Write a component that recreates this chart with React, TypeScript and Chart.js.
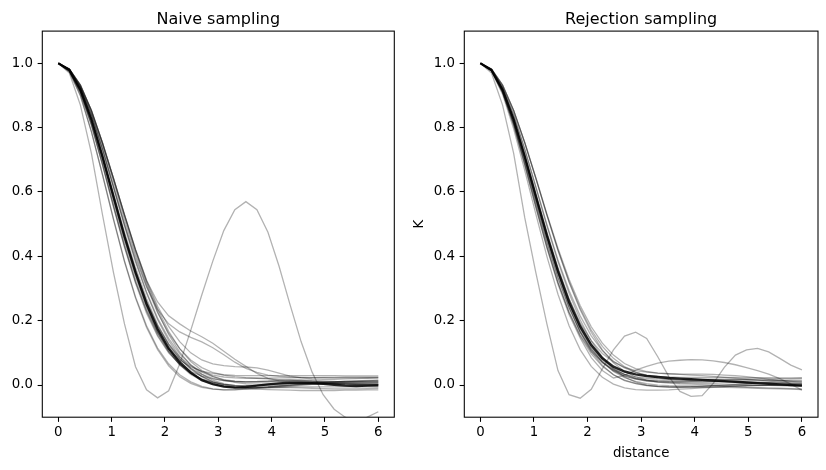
import React, { useEffect, useRef } from "react";
import { Chart, registerables } from "chart.js";

Chart.register(...registerables);

// distance grid (30 points from 0 to 6)
const distance = [0, 0.207, 0.414, 0.621, 0.828, 1.034, 1.241, 1.448, 1.655, 1.862, 2.069, 2.276, 2.483, 2.69, 2.897, 3.103, 3.31, 3.517, 3.724, 3.931, 4.138, 4.345, 4.552, 4.759, 4.966, 5.172, 5.379, 5.586, 5.793, 6];
const xTicks = [0, 1, 2, 3, 4, 5, 6];
const yTicks = [0, 0.2, 0.4, 0.6, 0.8, 1.0];

// ---- Naive sampling ----
const naiveMean = [1, 0.979, 0.918, 0.825, 0.71, 0.586, 0.462, 0.35, 0.252, 0.174, 0.114, 0.071, 0.039, 0.015, 0.003, -0.005, -0.008, -0.006, -0.002, 0.002, 0.005, 0.007, 0.007, 0.006, 0.004, 0.001, -0.002, -0.003, -0.002, -0.001];
const naiveS1 = [1, 0.974, 0.9, 0.788, 0.655, 0.517, 0.386, 0.274, 0.184, 0.115, 0.066, 0.032, 0.01, -0.004, -0.012, -0.015, -0.015, -0.013, -0.011, -0.009, -0.008, -0.008, -0.009, -0.01, -0.011, -0.012, -0.012, -0.012, -0.011, -0.01];
const naiveS2 = [1, 0.977, 0.909, 0.808, 0.684, 0.553, 0.428, 0.316, 0.223, 0.152, 0.1, 0.065, 0.042, 0.028, 0.019, 0.014, 0.011, 0.01, 0.01, 0.01, 0.011, 0.011, 0.011, 0.011, 0.01, 0.01, 0.01, 0.01, 0.01, 0.01];
const naiveS3 = [1, 0.979, 0.918, 0.825, 0.71, 0.586, 0.462, 0.349, 0.251, 0.172, 0.112, 0.068, 0.037, 0.017, 0.004, -0.004, -0.008, -0.009, -0.008, -0.006, -0.003, 0, 0.003, 0.005, 0.006, 0.006, 0.005, 0.004, 0.003, 0.002];
const naiveS4 = [1, 0.979, 0.918, 0.825, 0.711, 0.588, 0.466, 0.355, 0.26, 0.185, 0.128, 0.087, 0.059, 0.042, 0.031, 0.025, 0.022, 0.021, 0.021, 0.021, 0.022, 0.022, 0.023, 0.023, 0.024, 0.024, 0.024, 0.024, 0.024, 0.024];
const naiveS5 = [1, 0.981, 0.925, 0.84, 0.733, 0.615, 0.495, 0.383, 0.285, 0.203, 0.138, 0.088, 0.052, 0.027, 0.01, -0.001, -0.007, -0.011, -0.013, -0.014, -0.015, -0.016, -0.017, -0.017, -0.017, -0.017, -0.016, -0.016, -0.015, -0.015];
const naiveS6 = [1, 0.981, 0.925, 0.84, 0.733, 0.616, 0.497, 0.386, 0.289, 0.208, 0.145, 0.097, 0.063, 0.04, 0.026, 0.017, 0.012, 0.01, 0.01, 0.011, 0.013, 0.014, 0.014, 0.012, 0.009, 0.006, 0.003, 0.001, 0, 0];
const naiveS7 = [1, 0.982, 0.932, 0.853, 0.753, 0.643, 0.529, 0.42, 0.321, 0.236, 0.167, 0.113, 0.073, 0.045, 0.027, 0.015, 0.008, 0.004, 0.003, 0.003, 0.004, 0.005, 0.006, 0.007, 0.007, 0.006, 0.005, 0.004, 0.003, 0.002];
const naiveS8 = [1, 0.982, 0.932, 0.853, 0.752, 0.641, 0.526, 0.415, 0.315, 0.228, 0.157, 0.102, 0.062, 0.034, 0.015, 0.004, -0.003, -0.006, -0.007, -0.006, -0.004, -0.001, 0.002, 0.005, 0.008, 0.01, 0.012, 0.013, 0.014, 0.015];
const naiveS9 = [1, 0.982, 0.932, 0.853, 0.753, 0.643, 0.53, 0.422, 0.326, 0.245, 0.182, 0.135, 0.1, 0.078, 0.066, 0.06, 0.057, 0.056, 0.053, 0.046, 0.037, 0.028, 0.022, 0.019, 0.018, 0.018, 0.019, 0.02, 0.021, 0.022];
const naiveS10 = [1, 0.982, 0.932, 0.853, 0.753, 0.643, 0.529, 0.42, 0.325, 0.258, 0.215, 0.19, 0.168, 0.15, 0.13, 0.105, 0.08, 0.058, 0.036, 0.021, 0.013, 0.009, 0.007, 0.007, 0.008, 0.009, 0.01, 0.011, 0.012, 0.012];
const naiveS11 = [1, 0.981, 0.925, 0.84, 0.734, 0.618, 0.502, 0.395, 0.305, 0.235, 0.19, 0.165, 0.148, 0.134, 0.116, 0.094, 0.071, 0.052, 0.039, 0.031, 0.027, 0.025, 0.024, 0.023, 0.023, 0.022, 0.022, 0.022, 0.022, 0.022];
const naiveS12 = [1, 0.974, 0.9, 0.787, 0.653, 0.514, 0.383, 0.27, 0.179, 0.11, 0.06, 0.026, 0.005, -0.007, -0.013, -0.015, -0.014, -0.012, -0.009, -0.006, -0.003, -0.001, 0.001, 0.002, 0.003, 0.003, 0.002, 0.001, 0, -0.001];
const naiveS13 = [1, 0.977, 0.909, 0.808, 0.685, 0.556, 0.432, 0.322, 0.232, 0.162, 0.112, 0.078, 0.056, 0.043, 0.036, 0.032, 0.03, 0.029, 0.029, 0.029, 0.029, 0.029, 0.029, 0.029, 0.029, 0.029, 0.028, 0.028, 0.028, 0.028];
const naiveS14 = [1, 0.979, 0.918, 0.824, 0.708, 0.583, 0.458, 0.345, 0.246, 0.166, 0.106, 0.063, 0.033, 0.014, 0.002, -0.004, -0.007, -0.008, -0.008, -0.007, -0.007, -0.006, -0.006, -0.006, -0.006, -0.006, -0.006, -0.006, -0.006, -0.006];
const naiveS15 = [1, 0.982, 0.928, 0.848, 0.745, 0.632, 0.515, 0.405, 0.307, 0.225, 0.161, 0.113, 0.078, 0.054, 0.039, 0.031, 0.026, 0.023, 0.021, 0.019, 0.017, 0.015, 0.013, 0.011, 0.01, 0.01, 0.011, 0.012, 0.013, 0.014];
const naiveS16 = [1, 0.97, 0.87, 0.72, 0.53, 0.35, 0.19, 0.057, -0.015, -0.04, -0.018, 0.065, 0.17, 0.28, 0.385, 0.48, 0.545, 0.57, 0.545, 0.475, 0.37, 0.25, 0.135, 0.04, -0.03, -0.075, -0.1, -0.115, -0.1, -0.083];
const naiveS17 = [1, 0.978, 0.914, 0.818, 0.699, 0.572, 0.447, 0.335, 0.24, 0.163, 0.105, 0.064, 0.036, 0.018, 0.008, 0.002, -0.001, -0.002, -0.001, 0.001, 0.003, 0.005, 0.006, 0.006, 0.005, 0.004, 0.003, 0.002, 0.002, 0.002];
const naiveS18 = [1, 0.98, 0.921, 0.831, 0.719, 0.597, 0.476, 0.365, 0.268, 0.188, 0.127, 0.082, 0.049, 0.026, 0.011, 0.001, -0.005, -0.008, -0.009, -0.008, -0.006, -0.004, -0.001, 0.002, 0.005, 0.007, 0.009, 0.01, 0.01, 0.01];
const naiveS19 = [1, 0.979, 0.918, 0.825, 0.71, 0.587, 0.465, 0.354, 0.258, 0.181, 0.123, 0.081, 0.052, 0.033, 0.021, 0.014, 0.011, 0.01, 0.011, 0.013, 0.015, 0.016, 0.016, 0.015, 0.013, 0.011, 0.009, 0.008, 0.007, 0.007];
const naiveS20 = [1, 0.977, 0.91, 0.811, 0.689, 0.559, 0.434, 0.322, 0.229, 0.156, 0.102, 0.063, 0.036, 0.019, 0.008, 0.002, -0.001, -0.002, -0.002, -0.001, 0, 0.001, 0.002, 0.003, 0.004, 0.005, 0.006, 0.006, 0.006, 0.006];
const naiveSamples = [naiveS1, naiveS2, naiveS3, naiveS4, naiveS5, naiveS6, naiveS7, naiveS8, naiveS9, naiveS10, naiveS11, naiveS12, naiveS13, naiveS14, naiveS15, naiveS16, naiveS17, naiveS18, naiveS19, naiveS20];

// ---- Rejection sampling ----
const rejMean = [1, 0.979, 0.918, 0.825, 0.71, 0.587, 0.465, 0.354, 0.258, 0.182, 0.124, 0.083, 0.057, 0.042, 0.033, 0.028, 0.025, 0.022, 0.02, 0.018, 0.016, 0.014, 0.012, 0.01, 0.008, 0.006, 0.004, 0.002, 0, -0.002];
const rejS1 = [1, 0.975, 0.904, 0.796, 0.667, 0.532, 0.4, 0.282, 0.184, 0.11, 0.058, 0.024, 0.003, -0.009, -0.014, -0.016, -0.016, -0.015, -0.013, -0.011, -0.009, -0.007, -0.005, -0.003, -0.002, -0.001, 0, 0, -0.001, -0.002];
const rejS2 = [1, 0.977, 0.909, 0.808, 0.684, 0.554, 0.429, 0.318, 0.226, 0.155, 0.104, 0.07, 0.047, 0.033, 0.025, 0.021, 0.019, 0.018, 0.018, 0.018, 0.018, 0.018, 0.018, 0.018, 0.018, 0.019, 0.019, 0.02, 0.02, 0.021];
const rejS3 = [1, 0.979, 0.918, 0.825, 0.71, 0.586, 0.463, 0.351, 0.253, 0.175, 0.115, 0.072, 0.042, 0.023, 0.011, 0.004, 0, -0.002, -0.003, -0.003, -0.003, -0.002, -0.002, -0.001, -0.001, 0, 0, 0, 0, 0];
const rejS4 = [1, 0.979, 0.918, 0.826, 0.712, 0.59, 0.469, 0.36, 0.267, 0.193, 0.138, 0.098, 0.072, 0.055, 0.045, 0.04, 0.037, 0.035, 0.033, 0.031, 0.029, 0.027, 0.024, 0.021, 0.018, 0.015, 0.012, 0.009, 0.006, 0.004];
const rejS5 = [1, 0.981, 0.925, 0.84, 0.733, 0.615, 0.495, 0.383, 0.285, 0.203, 0.137, 0.087, 0.05, 0.025, 0.009, 0, -0.005, -0.007, -0.007, -0.006, -0.004, -0.002, 0, 0.002, 0.004, 0.006, 0.008, 0.009, 0.01, 0.01];
const rejS6 = [1, 0.981, 0.925, 0.84, 0.733, 0.617, 0.499, 0.389, 0.294, 0.215, 0.153, 0.107, 0.074, 0.053, 0.039, 0.031, 0.027, 0.025, 0.024, 0.024, 0.024, 0.024, 0.024, 0.024, 0.023, 0.023, 0.023, 0.022, 0.022, 0.022];
const rejS7 = [1, 0.982, 0.932, 0.853, 0.753, 0.643, 0.528, 0.418, 0.319, 0.234, 0.164, 0.109, 0.069, 0.042, 0.025, 0.015, 0.009, 0.006, 0.004, 0.003, 0.001, -0.001, -0.003, -0.005, -0.007, -0.008, -0.009, -0.01, -0.011, -0.012];
const rejS8 = [1, 0.982, 0.932, 0.853, 0.754, 0.645, 0.532, 0.425, 0.329, 0.247, 0.181, 0.13, 0.093, 0.067, 0.051, 0.042, 0.037, 0.035, 0.034, 0.034, 0.034, 0.033, 0.031, 0.029, 0.026, 0.022, 0.018, 0.014, 0.011, 0.008];
const rejS9 = [1, 0.978, 0.913, 0.815, 0.696, 0.569, 0.445, 0.333, 0.24, 0.166, 0.111, 0.072, 0.045, 0.028, 0.018, 0.012, 0.01, 0.009, 0.009, 0.01, 0.01, 0.011, 0.012, 0.012, 0.013, 0.013, 0.014, 0.014, 0.015, 0.015];
const rejS10 = [1, 0.979, 0.918, 0.825, 0.709, 0.584, 0.459, 0.345, 0.246, 0.165, 0.104, 0.061, 0.032, 0.014, 0.004, -0.002, -0.004, -0.005, -0.005, -0.005, -0.006, -0.006, -0.007, -0.008, -0.009, -0.01, -0.011, -0.012, -0.013, -0.014];
const rejS11 = [1, 0.977, 0.909, 0.808, 0.684, 0.553, 0.426, 0.313, 0.219, 0.146, 0.085, 0.045, 0.022, 0.03, 0.046, 0.058, 0.068, 0.074, 0.077, 0.079, 0.078, 0.075, 0.07, 0.063, 0.054, 0.045, 0.034, 0.02, 0.003, -0.016];
const rejS12 = [1, 0.97, 0.87, 0.72, 0.52, 0.35, 0.19, 0.045, -0.03, -0.041, -0.013, 0.05, 0.109, 0.152, 0.164, 0.145, 0.088, 0.026, -0.02, -0.035, -0.033, 0.005, 0.055, 0.093, 0.109, 0.114, 0.103, 0.083, 0.062, 0.047];
const rejS13 = [1, 0.982, 0.932, 0.853, 0.753, 0.643, 0.529, 0.42, 0.322, 0.239, 0.171, 0.12, 0.083, 0.057, 0.04, 0.029, 0.022, 0.018, 0.016, 0.014, 0.013, 0.012, 0.011, 0.01, 0.009, 0.008, 0.007, 0.006, 0.005, 0.004];
const rejS14 = [1, 0.978, 0.914, 0.818, 0.699, 0.572, 0.447, 0.335, 0.24, 0.165, 0.109, 0.07, 0.044, 0.028, 0.019, 0.014, 0.012, 0.011, 0.011, 0.011, 0.01, 0.01, 0.009, 0.008, 0.007, 0.006, 0.005, 0.004, 0.003, 0.002];
const rejS15 = [1, 0.98, 0.921, 0.831, 0.719, 0.597, 0.476, 0.365, 0.268, 0.189, 0.128, 0.084, 0.053, 0.033, 0.021, 0.014, 0.01, 0.008, 0.007, 0.006, 0.005, 0.004, 0.003, 0.002, 0.001, 0, -0.001, -0.002, -0.003, -0.004];
const rejS16 = [1, 0.979, 0.918, 0.825, 0.71, 0.586, 0.463, 0.351, 0.254, 0.177, 0.119, 0.078, 0.05, 0.032, 0.021, 0.016, 0.014, 0.013, 0.013, 0.014, 0.015, 0.016, 0.017, 0.017, 0.017, 0.016, 0.015, 0.014, 0.013, 0.012];
const rejS17 = [1, 0.977, 0.91, 0.811, 0.689, 0.559, 0.433, 0.32, 0.226, 0.152, 0.097, 0.058, 0.032, 0.015, 0.005, -0.001, -0.004, -0.006, -0.007, -0.007, -0.007, -0.006, -0.005, -0.004, -0.003, -0.002, -0.001, 0, 0, 0];
const rejSamples = [rejS1, rejS2, rejS3, rejS4, rejS5, rejS6, rejS7, rejS8, rejS9, rejS10, rejS11, rejS12, rejS13, rejS14, rejS15, rejS16, rejS17];

const FONT = "'DejaVu Sans', sans-serif";

const framePlugin = {
  id: "frameAndTitle",
  afterDatasetsDraw(chart: any, _args: any, opts: any) {
    const { ctx, chartArea } = chart;
    ctx.save();
    ctx.strokeStyle = "#000";
    ctx.lineWidth = 1.07;
    ctx.strokeRect(chartArea.left, chartArea.top, chartArea.right - chartArea.left, chartArea.bottom - chartArea.top);
    ctx.font = `16px ${FONT}`;
    ctx.fillStyle = "#000";
    ctx.textAlign = "center";
    ctx.textBaseline = "alphabetic";
    ctx.fillText(opts.text, (chartArea.left + chartArea.right) / 2, 23.5);
    ctx.restore();
  },
};

function buildConfig(title: string, samples: number[][], mean: number[], yWidth: number, padRight: number, withLabels: boolean) {
  const datasets: any[] = samples.map((s) => ({
    data: s.map((y, i) => ({ x: distance[i], y })),
    borderColor: "rgba(0,0,0,0.3)",
    borderWidth: 1.3,
    pointRadius: 0,
    tension: 0,
    fill: false,
    clip: 0,
  }));
  datasets.push({
    data: mean.map((y, i) => ({ x: distance[i], y })),
    borderColor: "rgba(0,0,0,0.85)",
    borderWidth: 2.4,
    pointRadius: 0,
    tension: 0,
    fill: false,
    clip: 0,
  });
  const tickFont = { family: FONT, size: 13.33 };
  return {
    type: "line" as const,
    data: { datasets },
    plugins: [framePlugin],
    options: {
      animation: false as const,
      responsive: false,
      devicePixelRatio: 1,
      events: [],
      layout: { padding: { top: 31.1, right: padRight, bottom: 0, left: 0 } },
      plugins: {
        legend: { display: false },
        title: { display: false },
        tooltip: { enabled: false },
        frameAndTitle: { text: title },
      },
      scales: {
        x: {
          type: "linear" as const,
          min: -0.3,
          max: 6.3,
          afterBuildTicks: (s: any) => {
            s.ticks = xTicks.map((v) => ({ value: v }));
          },
          afterFit: (s: any) => {
            s.height = 52.8;
          },
          ticks: {
            autoSkip: false,
            maxRotation: 0,
            padding: 2.8,
            color: "#000",
            font: tickFont,
            callback: (v: any) => String(v),
          },
          grid: { display: true, drawOnChartArea: false, drawTicks: true, tickLength: 4.67, tickColor: "#000", tickWidth: 1.07, color: "#000" },
          border: { display: false },
          title: {
            display: withLabels,
            text: "distance",
            color: "#000",
            font: { family: FONT, size: 13.33 },
            padding: { top: 0, bottom: 8.1 },
          },
        },
        y: {
          type: "linear" as const,
          min: -0.1,
          max: 1.1,
          afterBuildTicks: (s: any) => {
            s.ticks = yTicks.map((v) => ({ value: v }));
          },
          afterFit: (s: any) => {
            s.width = yWidth;
          },
          ticks: {
            autoSkip: false,
            padding: 4.67,
            color: "#000",
            font: tickFont,
            callback: (v: any) => Number(v).toFixed(1),
          },
          grid: { display: true, drawOnChartArea: false, drawTicks: true, tickLength: 4.67, tickColor: "#000", tickWidth: 1.07, color: "#000" },
          border: { display: false },
          title: {
            display: withLabels,
            text: "K",
            color: "#000",
            font: { family: FONT, size: 13.33 },
            padding: { top: 2, bottom: 0 },
          },
        },
      },
    },
  };
}

export default function App() {
  const leftRef = useRef<HTMLCanvasElement | null>(null);
  const rightRef = useRef<HTMLCanvasElement | null>(null);

  useEffect(() => {
    const c1 = new Chart(leftRef.current as HTMLCanvasElement, buildConfig("Naive sampling", naiveSamples, naiveMean, 42.3, 15.7, false) as any);
    const c2 = new Chart(rightRef.current as HTMLCanvasElement, buildConfig("Rejection sampling", rejSamples, rejMean, 54.3, 8, true) as any);
    return () => {
      c1.destroy();
      c2.destroy();
    };
  }, []);

  return (
    <div style={{ position: "absolute", left: 0, top: 0, width: 826, height: 470, background: "#fff" }}>
      <canvas ref={leftRef} width={410} height={470} style={{ position: "absolute", left: 0, top: 0, width: 410, height: 470 }} />
      <canvas ref={rightRef} width={416} height={470} style={{ position: "absolute", left: 410, top: 0, width: 416, height: 470 }} />
    </div>
  );
}
